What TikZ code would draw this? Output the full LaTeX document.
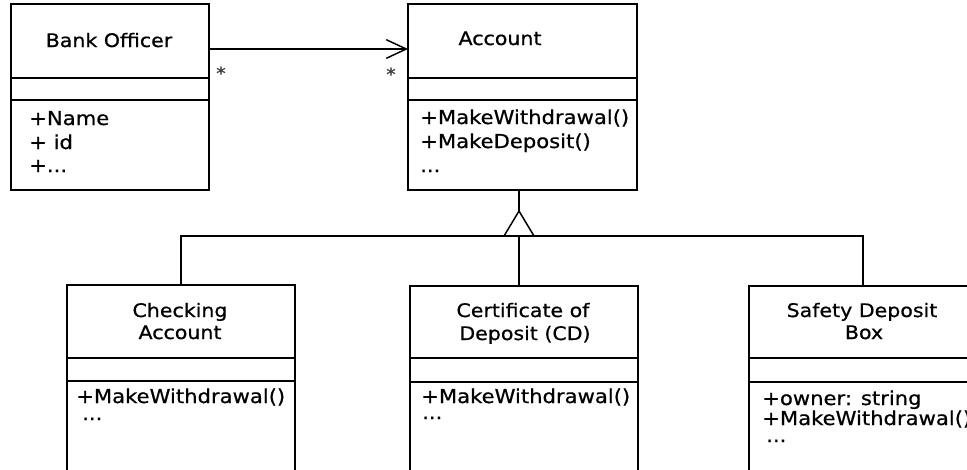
\documentclass[tikz,border=0pt]{standalone}
\usepackage{fontspec}
\setmainfont{DejaVu Sans}[FakeStretch=1.1, FakeBold=0.7]
\usetikzlibrary{arrows.meta}

\def\px{0.75pt}

\begin{document}
\begin{tikzpicture}[x=0.75pt, y=-0.75pt,
  link/.style={line width=1.1pt, draw=black},
  classbox/.style={link, rectangle, inner sep=0pt, outer sep=0pt, anchor=north west},
  classname/.style={font=\fontsize{14}{17}\selectfont, anchor=base, inner sep=0pt},
  member/.style={font=\fontsize{14.4}{17}\selectfont, anchor=base west, inner sep=0pt},
  mult/.style={font=\fontsize{13}{15}\selectfont, inner sep=0pt, text=black!75}]

  \useasboundingbox (0,0) rectangle (967,469);
  \clip (0,0) rectangle (967,469);

  % ---------- class boxes ----------
  \node[classbox, minimum width=198*\px, minimum height=186*\px] (bo)  at (11,4) {};
  \node[classbox, minimum width=229*\px, minimum height=186*\px] (acc) at (408,4) {};
  \node[classbox, minimum width=228*\px, minimum height=220*\px] (chk) at (67,285) {};
  \node[classbox, minimum width=228*\px, minimum height=220*\px] (cd)  at (410,286) {};
  \node[classbox, minimum width=228*\px, minimum height=220*\px] (sdb) at (749,286) {};

  % compartment separators of the upper classes
  \foreach \c in {bo,acc}{
    \draw[link] ([yshift=-74*\px]\c.north west) -- ([yshift=-74*\px]\c.north east);
    \draw[link] ([yshift=-96*\px]\c.north west) -- ([yshift=-96*\px]\c.north east);
  }
  % compartment separators of the subclasses
  \draw[link] ([yshift=-73*\px]chk.north west) -- ([yshift=-73*\px]chk.north east);
  \draw[link] ([yshift=-96*\px]chk.north west) -- ([yshift=-96*\px]chk.north east);
  \foreach \c in {cd,sdb}{
    \draw[link] ([yshift=-72*\px]\c.north west) -- ([yshift=-72*\px]\c.north east);
    \draw[link] ([yshift=-96*\px]\c.north west) -- ([yshift=-96*\px]\c.north east);
  }

  % ---------- class names ----------
  \node[classname] (bo-t)   at (109,47)  {Bank Officer};
  \node[classname] (acc-t)  at (500,45)  {Account};
  \node[classname] (chk-t1) at (180,317) {Checking};
  \node[classname] (chk-t2) at (180,339) {Account};
  \node[classname] (cd-t1)  at (523,317) {Certificate of};
  \node[classname] (cd-t2)  at (525,340) {Deposit (CD)};
  \node[classname] (sdb-t1) at (862,317) {Safety Deposit};
  \node[classname] (sdb-t2) at (864,339) {Box};

  % ---------- members ----------
  \node[member] (bo-m1) at (29,125) {+Name};
  \node[member] (bo-m2) at (29,149) {+ id};
  \node[member] (bo-m3) at (29,172) {+...};

  \node[member] (acc-m1) at (420,124) {+MakeWithdrawal()};
  \node[member] (acc-m2) at (420,148) {+MakeDeposit()};
  \node[member] (acc-m3) at (420,172) {...};

  \node[member] (chk-m1) at (76,403) {+MakeWithdrawal()};
  \node[member] (chk-m2) at (82,420) {...};

  \node[member] (cd-m1) at (421,403) {+MakeWithdrawal()};
  \node[member] (cd-m2) at (422,419) {...};

  \node[member] (sdb-m1) at (762,405) {+owner: string};
  \node[member] (sdb-m2) at (762,425) {+MakeWithdrawal()};
  \node[member] (sdb-m3) at (766,442) {...};

  % ---------- association Bank Officer -> Account ----------
  \draw[link, -{Straight Barb[length=15pt, width=14pt, line width=1.1pt]}]
    ([yshift=-45*\px]bo.north east) -- ([yshift=-45*\px]acc.north west);
  \node[mult] (m-bo)  at (221,73) {*};
  \node[mult] (m-acc) at (391,74) {*};

  % ---------- generalization ----------
  \coordinate (gtip) at (519,211);
  \coordinate (gbus) at (519,236);
  \draw[link] (acc.south -| gtip) -- (gtip);
  \draw[link, line join=miter] (gtip) -- ++(-15,25) -- ++(30,0) -- cycle;
  \draw[link] (chk.north) |- (gbus) -| (sdb.north);
  \draw[link] (gbus) -- (gbus |- cd.north);
\end{tikzpicture}
\end{document}
